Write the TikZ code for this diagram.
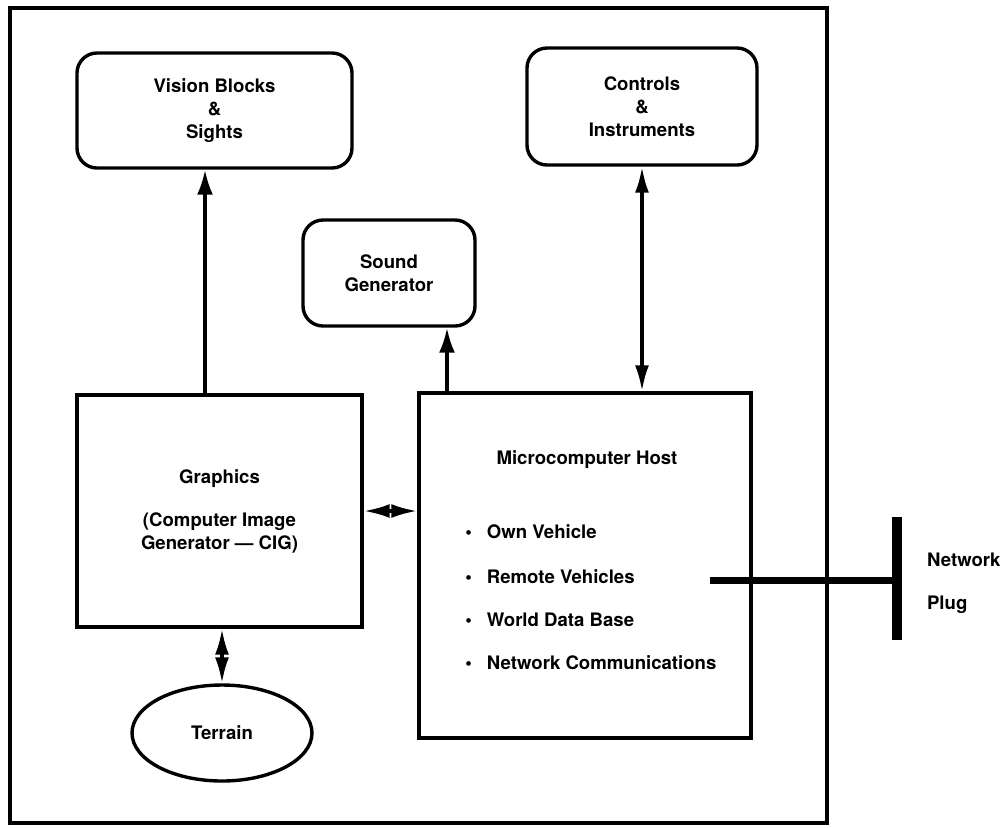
\documentclass[tikz,border=0pt]{standalone}
\usepackage{fontspec}
\setmainfont{TeX Gyre Heros}
\usetikzlibrary{arrows.meta,shapes.geometric}

\begin{document}
\begin{tikzpicture}[x=0.5pt,y=-0.5pt,
  font=\fontsize{9.3}{11.5}\selectfont\bfseries,
  rbox/.style={draw, line width=1.7pt, rounded corners=10pt, align=center, inner sep=0pt},
  sbox/.style={draw, line width=1.7pt, align=center, inner sep=0pt},
  link/.style={line width=1.7pt, -{Latex[length=12.5pt,width=8pt]}},
  dlink/.style={line width=1.7pt, {Latex[length=13pt,width=7pt]}-{Latex[length=13pt,width=7pt]}}]
\useasboundingbox (0,0) rectangle (1002,827);
\draw[line width=1.7pt] (10,8) rectangle (827,823);
\node[rbox, minimum width=137.5pt, minimum height=57.5pt] (vis) at (214.5,110.5) {Vision Blocks\\\&\\Sights};
\node[rbox, minimum width=115pt, minimum height=58.5pt] (ctl) at (642,106.5) {Controls\\\&\\Instruments};
\node[rbox, minimum width=86pt, minimum height=53pt] (snd) at (389,273) {Sound\\Generator};
\node[sbox, minimum width=142.5pt, minimum height=116pt] (gfx) at (219.5,511) {Graphics\\[10pt](Computer Image\\Generator --- CIG)};
\node[sbox, minimum width=166pt, minimum height=172.5pt] (host) at (585,565.5) {};
\node[draw, ellipse, line width=1.7pt, minimum width=90pt, minimum height=48pt, inner sep=0pt] (ter) at (222,733) {Terrain};
\node (title) at (587,460) {Microcomputer Host};
\node[anchor=west, inner sep=0pt] (own) at (465,532) {\textbullet\hspace{7.5pt}Own Vehicle};
\node[anchor=west, inner sep=0pt] (remote) at (465,577) {\textbullet\hspace{7.5pt}Remote Vehicles};
\node[anchor=west, inner sep=0pt] (world) at (465,620) {\textbullet\hspace{7.5pt}World Data Base};
\node[anchor=west, inner sep=0pt] (comms) at (465,663) {\textbullet\hspace{7.5pt}Network Communications};
\coordinate (netin) at (710,580);
\coordinate (plugtop) at (897,517);
\coordinate (plugbot) at (897,640);
\node[anchor=west] (netlbl) at (920,560) {Network};
\node[anchor=west] (pluglbl) at (920,605) {Plug};
\path[draw,link] (gfx.north -| 205,0) -- (vis.south -| 205,0);
\path[draw,link] (host.north -| 447,0) -- (snd.south -| 447,0);
\path[draw,dlink] (host.north -| ctl.south) -- (ctl.south);
\path[draw,dlink] (gfx.east) -- (gfx.east -| host.west);
\path[draw,dlink] (gfx.south -| ter.north) -- (ter.north);
\path[draw,line width=3.5pt] (netin) -- (netin -| plugtop);
\path[draw,line width=5pt] (plugtop) -- (plugbot);
\end{tikzpicture}
\end{document}
